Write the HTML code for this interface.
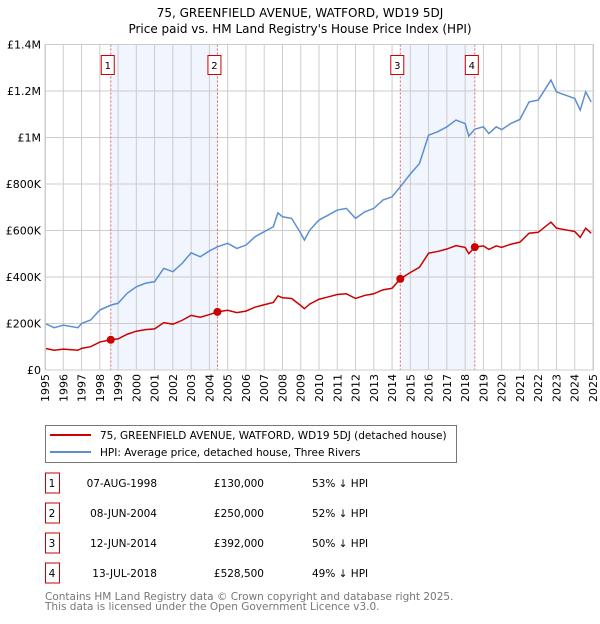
<!DOCTYPE html>
<html><head><meta charset="utf-8"><style>
body{margin:0;background:#fff;width:600px;height:620px;overflow:hidden;font-family:"DejaVu Sans","Liberation Sans",sans-serif;}
svg text{font-family:"DejaVu Sans","Liberation Sans",sans-serif;}
</style></head><body>
<svg id="chart" width="600" height="620" xmlns="http://www.w3.org/2000/svg">
<text x="300" y="17" text-anchor="middle" font-size="12">75, GREENFIELD AVENUE, WATFORD, WD19 5DJ</text>
<text x="300" y="33" text-anchor="middle" font-size="12">Price paid vs. HM Land Registry's House Price Index (HPI)</text>
<g id="grid"></g><g id="marks"></g><g id="axes"></g>
<rect x="45.5" y="425.5" width="411" height="37" fill="#fff" stroke="#777"/>
<line x1="50" y1="435" x2="91" y2="435" stroke="#cc0000" stroke-width="2"/>
<text x="100" y="439" font-size="10.5">75, GREENFIELD AVENUE, WATFORD, WD19 5DJ (detached house)</text>
<line x1="50" y1="452" x2="91" y2="452" stroke="#5b8fd0" stroke-width="2"/>
<text x="100" y="456" font-size="10.5">HPI: Average price, detached house, Three Rivers</text>
<g id="table" font-size="10.5"></g>
<text x="45" y="600" font-size="10.5" fill="#777">Contains HM Land Registry data © Crown copyright and database right 2025.</text>
<text x="45" y="610" font-size="10.5" fill="#777">This data is licensed under the Open Government Licence v3.0.</text>
</svg>
<script>
const hpiYears=[1995,1995.5,1996,1996.8,1997,1997.5,1998,1998.6,1999,1999.5,2000,2000.5,2001,2001.5,2002,2002.5,2003,2003.5,2004,2004.44,2005,2005.5,2006,2006.5,2007,2007.5,2007.75,2008,2008.5,2009,2009.2,2009.5,2010,2010.5,2011,2011.5,2012,2012.5,2013,2013.5,2014,2014.45,2015,2015.5,2016,2016.5,2017,2017.5,2018,2018.2,2018.53,2019,2019.3,2019.7,2020,2020.5,2021,2021.5,2022,2022.7,2023,2023.5,2024,2024.3,2024.6,2024.9];
const hpiValues=[200,182,193,182,200,215,258,279,287,330,358,373,380,437,423,458,504,487,512,530,545,523,537,573,595,616,676,659,652,588,559,602,645,666,688,695,652,680,695,731,745,788,843,888,1010,1025,1046,1075,1060,1006,1036,1046,1017,1046,1034,1060,1078,1153,1161,1247,1196,1182,1168,1118,1196,1153];
const saleYears=[1998.6,2004.44,2014.45,2018.53];
const salePrices=[130,250,392,528.5];
const saleLabels=["1","2","3","4"];
const saleDates=["07-AUG-1998","08-JUN-2004","12-JUN-2014","13-JUL-2018"];
const salePriceText=["£130,000","£250,000","£392,000","£528,500"];
const salePctText=["53% ↓ HPI","52% ↓ HPI","50% ↓ HPI","49% ↓ HPI"];
const yTicks=[0,200,400,600,800,1000,1200,1400];
const yTickLabels=["£0","£200K","£400K","£600K","£800K","£1M","£1.2M","£1.4M"];
const xTicks=[1995,1996,1997,1998,1999,2000,2001,2002,2003,2004,2005,2006,2007,2008,2009,2010,2011,2012,2013,2014,2015,2016,2017,2018,2019,2020,2021,2022,2023,2024,2025];

const X0=45,X1=593,Y0=370,Y1=44.5;
const xs=y=>X0+(y-1995)/30*(X1-X0);
const ys=v=>Y0-v/1400*(Y0-Y1);
const NS="http://www.w3.org/2000/svg";
function mk(tag,attrs,parent){const e=document.createElementNS(NS,tag);for(const k in attrs)e.setAttribute(k,attrs[k]);parent.appendChild(e);return e;}
const grid=document.getElementById('grid'),marks=document.getElementById('marks'),axes=document.getElementById('axes'),table=document.getElementById('table');
function hpiAt(t){for(let i=0;i<hpiYears.length-1;i++){if(t>=hpiYears[i]&&t<=hpiYears[i+1]){const f=(t-hpiYears[i])/(hpiYears[i+1]-hpiYears[i]);return hpiValues[i]+f*(hpiValues[i+1]-hpiValues[i]);}}return hpiValues[hpiValues.length-1];}
for(let i=0;i<saleYears.length;i+=2){
 const r=mk('rect',{x:xs(saleYears[i]),y:Y1,width:xs(saleYears[i+1])-xs(saleYears[i]),height:Y0-Y1,fill:'#eef3fc',opacity:0.8},grid);
 
 
}
xTicks.forEach(t=>{const l=mk('line',{x1:xs(t),x2:xs(t),y1:Y1,y2:Y0,stroke:'#ccc','stroke-width':1},grid);
 
 
 const px=xs(t)+4,py=Y0+4;
 const tx=mk('text',{x:px,y:py,'font-size':11,'text-anchor':'end',transform:'rotate(-90 '+px+' '+py+')'},axes);tx.textContent=t;
 
 
});
yTicks.forEach((t,i)=>{const l=mk('line',{x1:X0,x2:X1,y1:ys(t),y2:ys(t),stroke:'#ccc','stroke-width':1},grid);
 
 
 const tx=mk('text',{x:X0-4,y:ys(t)+4,'font-size':11,'text-anchor':'end'},axes);tx.textContent=yTickLabels[i];
 
 
});
saleYears.forEach((s,i)=>{const l=mk('line',{x1:xs(s),x2:xs(s),y1:Y1,y2:Y0,stroke:'#e06060','stroke-width':1,'stroke-dasharray':'2,2'},marks);
 
 
 const b=mk('rect',{x:xs(s)-9.5,y:55.5,width:13,height:19,fill:'#fff',stroke:'#cc0000'},marks);
 
 
 const t=mk('text',{x:xs(s)-3,y:69,'font-size':10,'text-anchor':'middle'},marks);t.textContent=saleLabels[i];
 
 
});
const hp=mk('polyline',{points:hpiYears.map((y,i)=>xs(y)+','+ys(hpiValues[i])).join(' '),fill:'none',stroke:'#5b8fd0','stroke-width':1.5},marks);


function ratioAt(t){let k=0;for(let i=0;i<saleYears.length;i++)if(t>=saleYears[i])k=i;return salePrices[k]/hpiAt(saleYears[k]);}
const pts=[];hpiYears.forEach((y,i)=>pts.push([y,hpiValues[i]*ratioAt(y)]));
saleYears.forEach((s,i)=>pts.push([s,salePrices[i]]));
pts.sort((a,b)=>a[0]-b[0]);
const pl=mk('polyline',{points:pts.map(p=>xs(p[0])+','+ys(p[1])).join(' '),fill:'none',stroke:'#cc0000','stroke-width':1.5},marks);


saleYears.forEach((s,i)=>{const c=mk('circle',{cx:xs(s),cy:ys(salePrices[i]),r:4,fill:'#cc0000'},marks);
 
 
});
mk('rect',{x:X0+0.5,y:Y1,width:X1-X0,height:Y0-Y1,fill:'none',stroke:'#ccc'},axes);
saleLabels.forEach((lab,i)=>{const cy=483+i*30;
 const b=mk('rect',{x:45.5,y:cy-10,width:14,height:20,fill:'#fff',stroke:'#cc0000'},table);
 
 
 const cells=[[52,lab,'middle','table-label'],[157,saleDates[i],'end','table-date'],[264,salePriceText[i],'end','table-price'],[312,salePctText[i],'start','table-hpi-diff']];
 cells.forEach(c=>{const t=mk('text',{x:c[0],y:cy+4,'text-anchor':c[2]},table);t.textContent=c[1];
  
  });
});
</script>
</body></html>
